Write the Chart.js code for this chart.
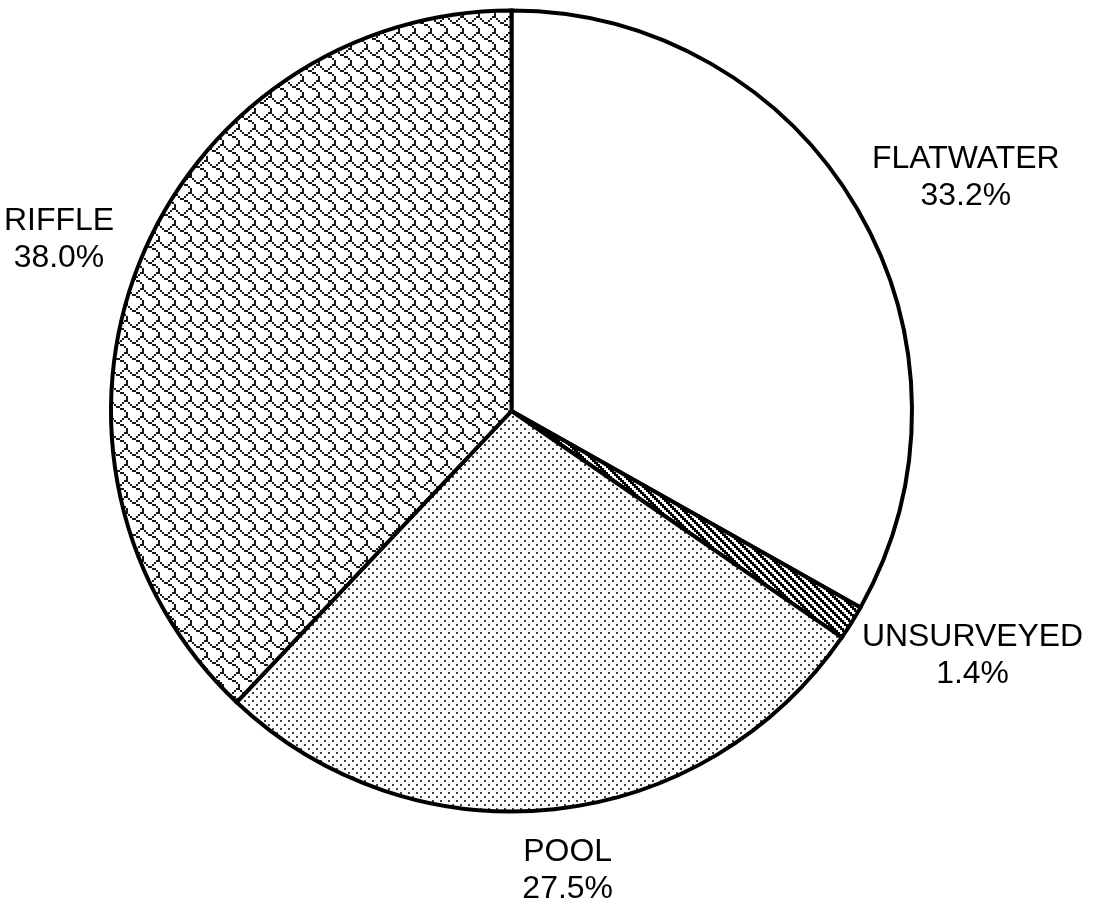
<!DOCTYPE html>
<html>
<head>
<meta charset="utf-8">
<script src="https://cdn.jsdelivr.net/npm/chart.js@4"></script>
<style>
  html, body { margin: 0; padding: 0; background: #ffffff; }
  #wrap { width: 1093px; height: 903px; }
</style>
</head>
<body>
<div id="wrap"><canvas id="c" width="1093" height="903"></canvas></div>
<script>
// Habitat composition by surveyed length
const categories = ['FLATWATER', 'UNSURVEYED', 'POOL', 'RIFFLE'];
const shares = [33.2, 1.4, 27.5, 38.0];
const shareLabels = shares.map(v => v.toFixed(1) + '%');

// Build an 8x8 bitmap hatch (rows as bytes, MSB = left pixel), scaled up
function bitHatch(rows, scale, ink) {
  const c = document.createElement('canvas');
  c.width = 8 * scale; c.height = 8 * scale;
  const g = c.getContext('2d');
  g.fillStyle = '#ffffff';
  g.fillRect(0, 0, c.width, c.height);
  g.fillStyle = ink;
  rows.forEach((bits, y) => {
    for (let x = 0; x < 8; x++) {
      if (bits & (0x80 >> x)) g.fillRect(x * scale, y * scale, scale, scale);
    }
  });
  return g.createPattern(c, 'repeat');
}

const ctx = document.getElementById('c').getContext('2d');
const fills = [
  '#ffffff',                                                                        // plain
  bitHatch([0x33, 0x99, 0xcc, 0x66, 0x33, 0x99, 0xcc, 0x66], 2, '#000000'),         // dark downward diagonal
  bitHatch([0x88, 0x00, 0x22, 0x00, 0x88, 0x00, 0x22, 0x00], 2, 'rgba(0,0,0,0.75)'),// dotted
  bitHatch([0x03, 0x84, 0x48, 0x30, 0x0c, 0x02, 0x01, 0x01], 2, 'rgba(0,0,0,0.9)')  // shingle
];

// Two-line outside labels placed along each slice's mid-angle
const FONT_PX = 31, X_STRETCH = 1.03, LINE_GAP = 37, PAD = 25, SIDE_GAP = 6;
const outsideLabels = {
  id: 'outsideLabels',
  afterDatasetsDraw(chart) {
    const g = chart.ctx;
    const arcs = chart.getDatasetMeta(0).data;
    g.save();
    g.font = FONT_PX + 'px "Liberation Sans", Arial, sans-serif';
    g.fillStyle = '#000000';
    g.textAlign = 'center';
    g.textBaseline = 'middle';
    arcs.forEach((arc, i) => {
      const p = arc.getProps(['x', 'y', 'startAngle', 'endAngle', 'outerRadius'], true);
      const mid = (p.startAngle + p.endAngle) / 2;
      const dx = Math.cos(mid), dy = Math.sin(mid);
      const lines = [categories[i], shareLabels[i]];
      const w = Math.max(...lines.map(t => g.measureText(t).width)) * X_STRETCH;
      const h = LINE_GAP * 2;
      const px = p.x + dx * (p.outerRadius + PAD) + Math.sign(dx) * SIDE_GAP;
      const py = p.y + dy * (p.outerRadius + PAD);
      const cx = px + dx * w / 2;
      const cy = py + dy * h / 2;
      lines.forEach((t, k) => {
        g.save();
        g.translate(cx, cy + (k - 0.5) * LINE_GAP);
        g.scale(X_STRETCH, 1);
        g.fillText(t, 0, 0);
        g.restore();
      });
    });
    g.restore();
  }
};

new Chart(ctx, {
  type: 'pie',
  data: {
    labels: categories,
    datasets: [{
      data: shares,
      backgroundColor: fills,
      borderColor: '#000000',
      borderWidth: 4,
      borderJoinStyle: 'miter'
    }]
  },
  options: {
    responsive: false,
    animation: false,
    devicePixelRatio: 1,
    layout: { padding: { left: 109, right: 179, top: 8, bottom: 89 } },
    plugins: {
      legend: { display: false },
      tooltip: { enabled: false }
    }
  },
  plugins: [outsideLabels]
});
</script>
</body>
</html>
